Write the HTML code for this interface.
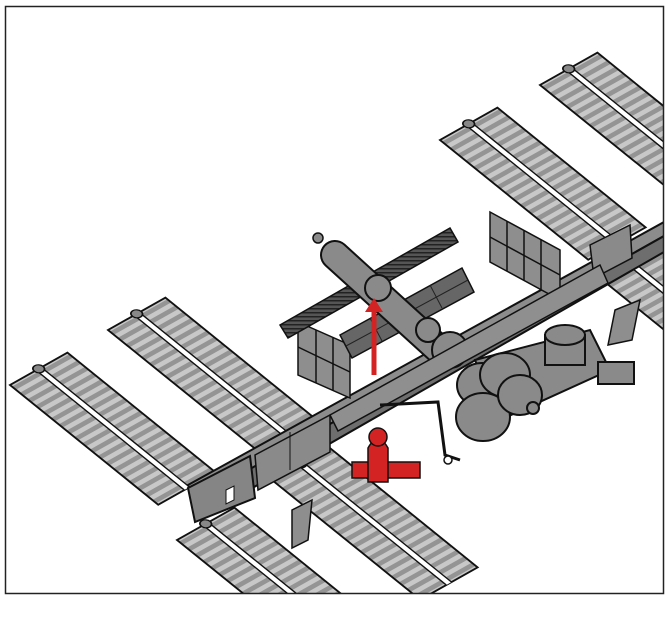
<!DOCTYPE html>
<html><head><meta charset="utf-8"><style>
html,body{margin:0;padding:0;background:#fff;width:670px;height:632px;overflow:hidden}
</style></head><body>
<svg width="670" height="632" viewBox="0 0 670 632" xmlns="http://www.w3.org/2000/svg">
<defs>
<pattern id="dk" patternUnits="userSpaceOnUse" width="10" height="4">
<rect width="10" height="4" fill="#555"/><rect width="10" height="1.5" fill="#222"/>
</pattern>
<clipPath id="fr"><rect x="6" y="7" width="657" height="586"/></clipPath>
<g id="panel">
<rect x="0" y="0" width="190" height="66" fill="#c8c8c8"/>
<path d="M5,0V66M15,0V66M25,0V66M35,0V66M45,0V66M55,0V66M65,0V66M75,0V66M85,0V66M95,0V66M105,0V66M115,0V66M125,0V66M135,0V66M145,0V66M155,0V66M165,0V66M175,0V66M185,0V66" stroke="#949494" stroke-width="5"/>
<rect x="0" y="0" width="190" height="66" fill="none" stroke="#111" stroke-width="2"/>
<rect x="0" y="30" width="190" height="6" fill="#fff"/>
<line x1="0" y1="30" x2="190" y2="30" stroke="#111" stroke-width="1.5"/>
<line x1="0" y1="36" x2="190" y2="36" stroke="#111" stroke-width="1.5"/>
<circle cx="0" cy="33" r="5" fill="#888" stroke="#111" stroke-width="1.5"/>
</g>
</defs>
<rect x="0" y="0" width="670" height="632" fill="#fff"/>
<g clip-path="url(#fr)">
<use href="#panel" transform="matrix(0.78 0.63 0.87 -0.49 10 385)"/>
<use href="#panel" transform="matrix(0.78 0.63 0.87 -0.49 108 330)"/>
<use href="#panel" transform="matrix(0.78 0.63 0.87 -0.49 440 140)"/>
<use href="#panel" transform="matrix(0.78 0.63 0.87 -0.49 540 85)"/>
<use href="#panel" transform="matrix(0.78 0.63 0.87 -0.49 590 270)"/>
<use href="#panel" transform="matrix(0.78 0.63 0.87 -0.49 177 540)"/>
<use href="#panel" transform="matrix(0.78 0.63 0.87 -0.49 272 480)"/>
<polygon points="188,485 664,222 664,236 195,500" fill="#8c8c8c" stroke="#111" stroke-width="2"/>
<polygon points="195,500 664,236 664,252 200,518" fill="#6e6e6e" stroke="#111" stroke-width="2"/>
<polygon points="188,488 250,456 255,498 195,522" fill="#858585" stroke="#111" stroke-width="2"/>
<polygon points="255,455 330,415 330,452 258,490" fill="#8a8a8a" stroke="#111" stroke-width="1.5"/>
<polygon points="590,245 630,225 632,258 594,278" fill="#8a8a8a" stroke="#111" stroke-width="1.5"/>
<polygon points="226,490 234,486 234,500 226,504" fill="#fff" stroke="#111"/>
<line x1="290" y1="432" x2="290" y2="470" stroke="#111"/>
<g fill="#8e8e8e" stroke="#111" stroke-width="1.5">
<polygon points="298,322 350,345 350,398 298,375"/>
<polygon points="490,212 560,250 560,300 490,262"/>
<line x1="298" y1="347" x2="350" y2="372"/><line x1="316" y1="330" x2="316" y2="383"/><line x1="333" y1="338" x2="333" y2="390"/>
<line x1="490" y1="237" x2="560" y2="275"/><line x1="507" y1="221" x2="507" y2="271"/><line x1="524" y1="230" x2="524" y2="280"/><line x1="541" y1="240" x2="541" y2="290"/>
<polygon points="615,310 640,300 632,340 608,345"/>
<polygon points="292,510 312,500 308,540 292,548"/>
</g>
<polygon points="280,325 450,228 458,242 288,338" fill="url(#dk)" stroke="#111" stroke-width="1.5"/>
<polygon points="340,335 462,268 474,292 352,358" fill="#666" stroke="#111" stroke-width="1.5"/>
<g stroke="#222" stroke-width="1"><line x1="370" y1="318" x2="382" y2="341"/><line x1="400" y1="302" x2="412" y2="325"/><line x1="430" y1="285" x2="442" y2="308"/><line x1="346" y1="346" x2="468" y2="280"/></g>
<line x1="445" y1="355" x2="335" y2="255" stroke="#111" stroke-width="30" stroke-linecap="round"/>
<line x1="445" y1="355" x2="335" y2="255" stroke="#8a8a8a" stroke-width="26" stroke-linecap="round"/>
<circle cx="378" cy="288" r="13" fill="#8a8a8a" stroke="#111" stroke-width="2"/>
<circle cx="428" cy="330" r="12" fill="#8a8a8a" stroke="#111" stroke-width="2"/>
<circle cx="450" cy="350" r="18" fill="#8a8a8a" stroke="#111" stroke-width="2"/>
<circle cx="318" cy="238" r="5" fill="#8a8a8a" stroke="#111" stroke-width="1.5"/>
<polygon points="330,415 600,265 608,283 338,431" fill="#8f8f8f" stroke="#111" stroke-width="1.5"/>
<g fill="#8a8a8a" stroke="#111" stroke-width="2">
<polygon points="475,360 590,330 610,370 500,420"/>
<rect x="545" y="335" width="40" height="30"/>
<ellipse cx="565" cy="335" rx="20" ry="10"/>
<ellipse cx="482" cy="385" rx="25" ry="22"/>
<ellipse cx="505" cy="375" rx="25" ry="22"/>
<ellipse cx="483" cy="417" rx="27" ry="24"/>
<ellipse cx="520" cy="395" rx="22" ry="20"/>
<circle cx="533" cy="408" r="6"/>
<rect x="598" y="362" width="36" height="22"/>
</g>
<g stroke="#111" stroke-width="3" fill="none"><polyline points="380,405 438,402 445,455 460,460"/></g>
<circle cx="448" cy="460" r="4" fill="#fff" stroke="#111" stroke-width="1.5"/>
<g fill="#d42323" stroke="#111" stroke-width="1.5">
<rect x="352" y="462" width="68" height="16"/>
<path d="M368,482 L368,448 Q378,430 388,448 L388,482 Z"/>
<circle cx="378" cy="437" r="9"/>
</g>
<line x1="374" y1="375" x2="374" y2="308" stroke="#d42323" stroke-width="5"/>
<polygon points="365,312 374,298 383,312" fill="#d42323"/>
</g>
<rect x="5.5" y="6.5" width="658" height="587" fill="none" stroke="#222" stroke-width="1.5"/>
</svg>
</body></html>
